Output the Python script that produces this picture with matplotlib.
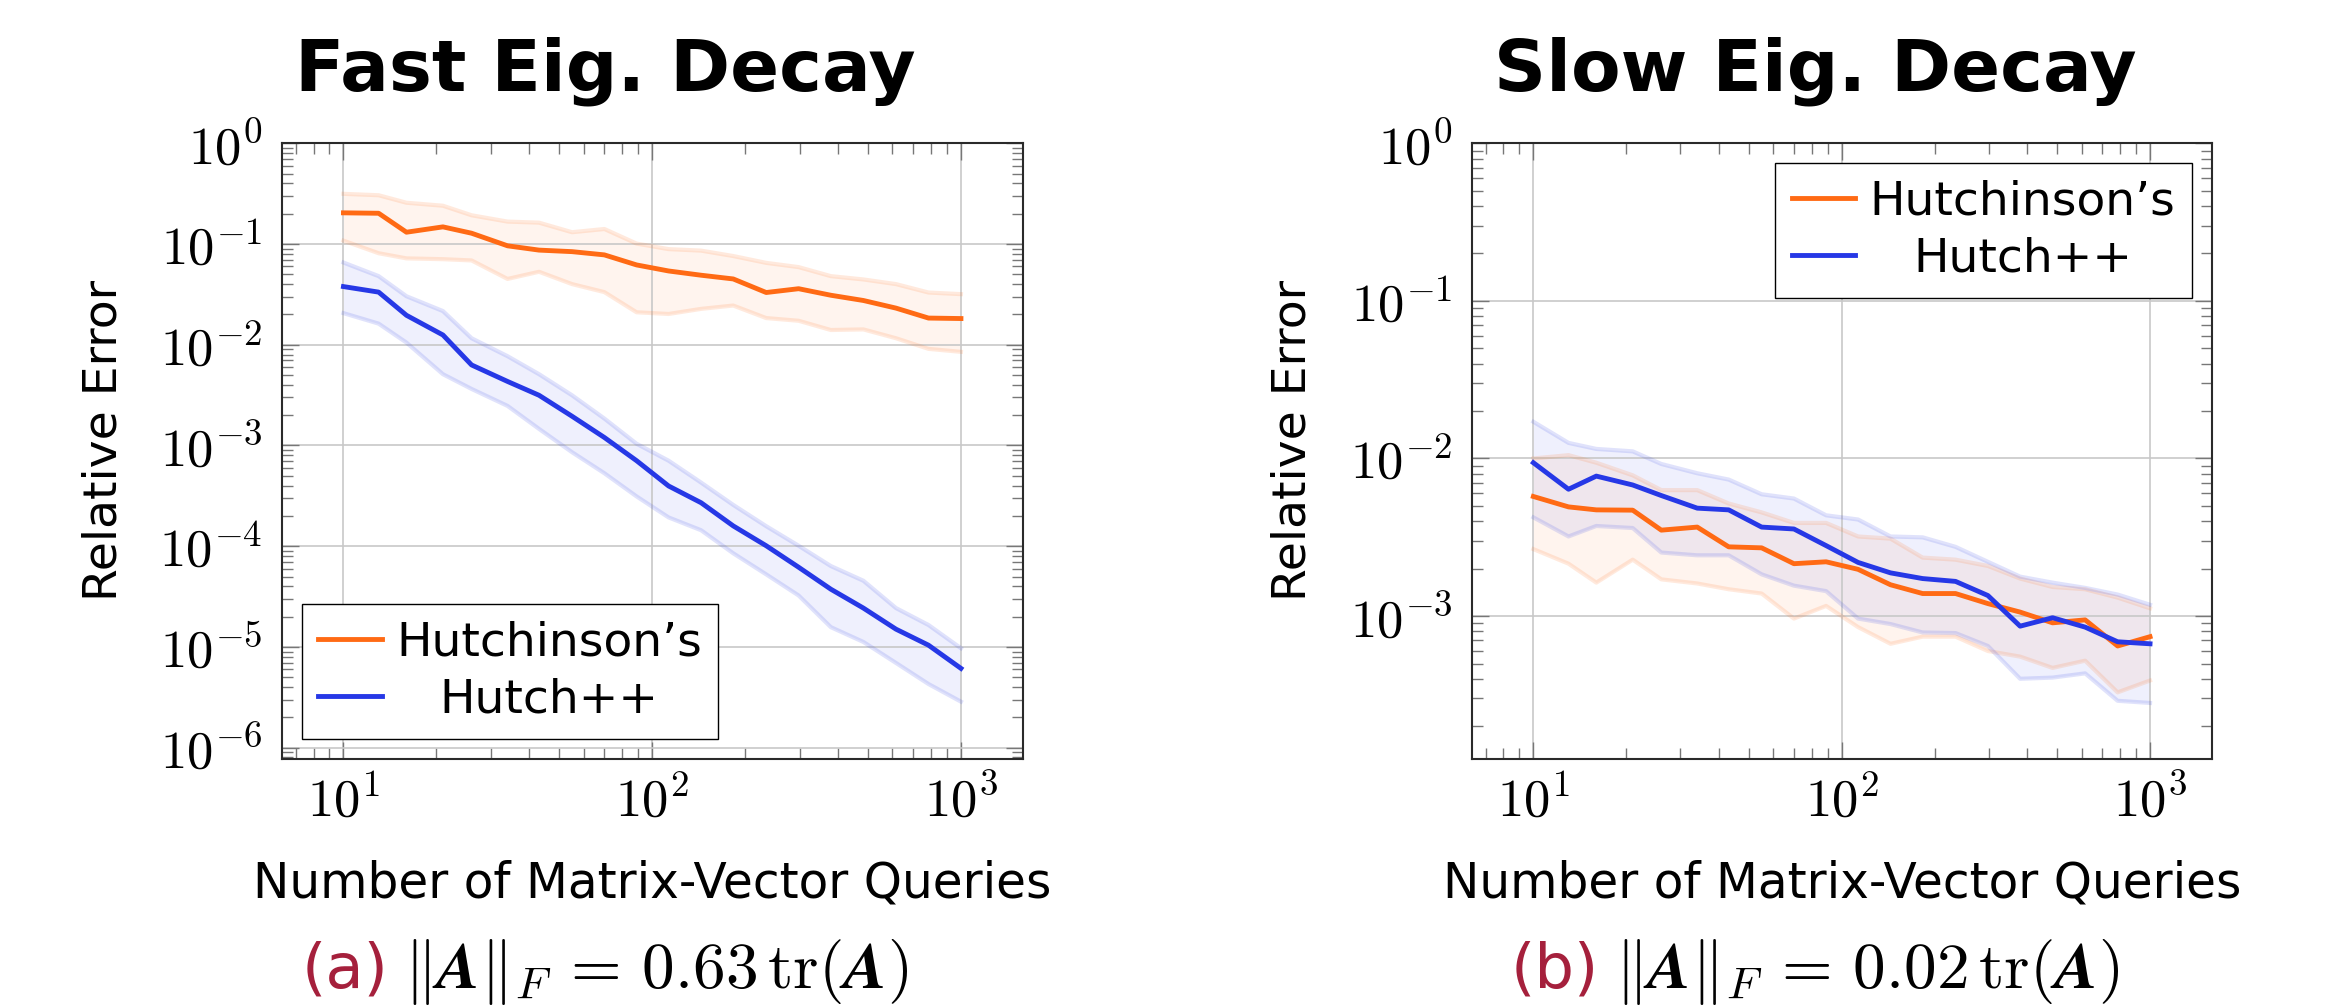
import numpy as np
import matplotlib
matplotlib.use("Agg")
import matplotlib.pyplot as plt
from matplotlib.ticker import LogLocator, FuncFormatter, NullFormatter
from matplotlib.transforms import Affine2D
from matplotlib.mathtext import MathTextParser
from matplotlib.font_manager import FontProperties

plt.rcParams['mathtext.fontset'] = 'cm'
plt.rcParams['font.family'] = ['DejaVu Sans']

# number of matrix-vector queries (x axis, shared by both panels)
queries = [10, 13, 16, 21, 26, 34, 43, 55, 70, 89, 113, 144, 183, 234, 298, 379, 483, 616, 785, 1000]

# (a) fast eigenvalue decay
fast_hutch = [0.204, 0.202, 0.131, 0.148, 0.128, 0.096, 0.087, 0.084, 0.078, 0.062,
              0.054, 0.049, 0.045, 0.033, 0.036, 0.031, 0.0275, 0.0231, 0.0184, 0.0182]
fast_hutch_hi = [0.315, 0.305, 0.257, 0.240, 0.193, 0.167, 0.163, 0.131, 0.141, 0.101,
                 0.089, 0.086, 0.076, 0.065, 0.059, 0.048, 0.0445, 0.040, 0.033, 0.0318]
fast_hutch_lo = [0.108, 0.081, 0.072, 0.0707, 0.0687, 0.045, 0.053, 0.040, 0.0333, 0.021,
                 0.0202, 0.0227, 0.0245, 0.0184, 0.0173, 0.014, 0.0142, 0.0116, 0.0091, 0.0085]
fast_pp = [0.0378, 0.0333, 0.0196, 0.0125, 0.0063, 0.00432, 0.00315, 0.00195, 0.0012, 0.000706,
           0.000396, 0.00027, 0.000159, 0.000101, 6.18e-5, 3.74e-5, 2.43e-5, 1.5e-5, 1.04e-5, 6.12e-6]
fast_pp_hi = [0.0655, 0.048, 0.0303, 0.0216, 0.0116, 0.0077, 0.0051, 0.00315, 0.00185, 0.00104,
              0.000706, 0.000428, 0.000257, 0.000158, 0.000101, 6.35e-5, 4.54e-5, 2.43e-5, 1.65e-5, 9.7e-6]
fast_pp_lo = [0.0206, 0.0162, 0.0105, 0.0051, 0.00364, 0.00247, 0.00146, 0.000857, 0.00053, 0.000312,
              0.000193, 0.000144, 8.5e-5, 5.25e-5, 3.24e-5, 1.57e-5, 1.12e-5, 6.93e-6, 4.28e-6, 2.86e-6]

# (b) slow eigenvalue decay
slow_hutch = [0.00574, 0.00493, 0.00472, 0.0047, 0.00351, 0.00367, 0.00275, 0.00271, 0.00215, 0.00221,
              0.00198, 0.00158, 0.00139, 0.00139, 0.0012, 0.00106, 0.000906, 0.000946, 0.000646, 0.00074]
slow_hutch_hi = [0.0100, 0.0105, 0.0094, 0.00782, 0.0063, 0.0063, 0.00518, 0.00455, 0.0039, 0.0039,
                 0.0032, 0.0031, 0.00235, 0.00228, 0.00208, 0.00173, 0.00153, 0.00148, 0.00131, 0.00112]
slow_hutch_lo = [0.00266, 0.00215, 0.00163, 0.00228, 0.00171, 0.00161, 0.00148, 0.00139, 0.000964, 0.00116,
                 0.000851, 0.000667, 0.00074, 0.00074, 0.0006, 0.000553, 0.000469, 0.000521, 0.000328, 0.00039]
slow_pp = [0.0094, 0.00638, 0.00773, 0.00679, 0.00582, 0.00484, 0.00472, 0.00367, 0.00357, 0.0028,
           0.00219, 0.00188, 0.00173, 0.00166, 0.00135, 0.000863, 0.000976, 0.000851, 0.000687, 0.000667]
slow_pp_hi = [0.0171, 0.01256, 0.0115, 0.0111, 0.00923, 0.00806, 0.00735, 0.00593, 0.00557, 0.00436,
              0.0041, 0.0032, 0.00316, 0.00275, 0.00221, 0.00178, 0.00163, 0.00151, 0.00137, 0.00118]
slow_pp_lo = [0.00423, 0.0032, 0.00373, 0.00362, 0.00253, 0.00243, 0.00243, 0.00184, 0.00156, 0.00144,
              0.000964, 0.00089, 0.000787, 0.00078, 0.000646, 0.0004, 0.000407, 0.000433, 0.00029, 0.000281]

labels = ["Hutchinson\u2019s", "Hutch++"]
titles = ["Fast Eig. Decay", "Slow Eig. Decay"]
tags = ["(a)", "(b)"]
ratios = ["0.63", "0.02"]

ORANGE = "#FF6A14"
BLUE = "#2638E6"
RED = "#A5203C"

W, H = 2331, 1007
fig = plt.figure(figsize=(W / 100, H / 100), dpi=100)


def fx(x):
    return x / W


def fy(y):
    return 1 - y / H


# bold italic A if mathtext can do it, else upright bold
try:
    MathTextParser("agg").parse(r"$\mathbfit{A}$", dpi=100, prop=FontProperties(size=20))
    boldA = r"\mathbfit{A}"
except Exception:
    boldA = r"\mathbf{A}"

ax_fast = fig.add_axes([fx(281.7), fy(758.7), 741 / W, 615.4 / H])
ax_slow = fig.add_axes([fx(1471.7), fy(758.7), 740 / W, 615.4 / H])

panels = [
    (ax_fast, fast_hutch, fast_hutch_lo, fast_hutch_hi, fast_pp, fast_pp_lo, fast_pp_hi, (10 ** -6.11, 1), "lower left"),
    (ax_slow, slow_hutch, slow_hutch_lo, slow_hutch_hi, slow_pp, slow_pp_lo, slow_pp_hi, (10 ** -3.905, 1), "upper right"),
]

legends = []
for ax, h, h_lo, h_hi, p, p_lo, p_hi, ylim, loc in panels:
    for lo, hi, c in [(h_lo, h_hi, ORANGE), (p_lo, p_hi, BLUE)]:
        ax.fill_between(queries, lo, hi, color=c, alpha=0.07, lw=0)
        ax.plot(queries, lo, color=c, alpha=0.14, lw=3.0)
        ax.plot(queries, hi, color=c, alpha=0.14, lw=3.0)
    l1, = ax.plot(queries, h, color=ORANGE, lw=3.5, label=labels[0])
    l2, = ax.plot(queries, p, color=BLUE, lw=3.5, label=labels[1])

    ax.set_xscale("log")
    ax.set_yscale("log")
    ax.set_xlim(10 ** 0.8, 10 ** 3.2)
    ax.set_ylim(*ylim)

    fmt = FuncFormatter(lambda v, pos: r"$10^{%d}$" % round(np.log10(v)))
    for axis in (ax.xaxis, ax.yaxis):
        axis.set_major_locator(LogLocator(base=10, numticks=100))
        axis.set_minor_locator(LogLocator(base=10, subs=np.arange(2, 10), numticks=100))
        axis.set_major_formatter(fmt)
        axis.set_minor_formatter(NullFormatter())
    ax.tick_params(which="both", direction="in", top=True, right=True, color="#777777", width=1.0)
    ax.tick_params(which="major", length=12, labelsize=38)
    ax.tick_params(axis="y", which="major", pad=14)
    ax.tick_params(axis="x", which="major", pad=12)
    ax.tick_params(which="minor", length=8)
    ax.grid(True, which="major", color="#c8c8c8", lw=1.2)
    for s in ax.spines.values():
        s.set_color("#2a2a2a")
        s.set_linewidth(1.5)

    leg = ax.legend(handles=[l1, l2], loc=loc, fontsize=34, frameon=True, fancybox=False,
                    edgecolor="black", framealpha=1, borderaxespad=0.42, handlelength=1.35,
                    handletextpad=0.3, borderpad=0.35, labelspacing=0.25)
    leg.get_frame().set_linewidth(1.0)
    legends.append(leg)

# titles, axis labels and captions
caption_parts = []
for i, (cx, sub_cx) in enumerate([(652.2, 605), (1841.7, 1815)]):
    fig.text(fx(sub_cx), fy(91), titles[i], ha="center", va="baseline",
             fontsize=52, fontweight="bold", family=["DejaVu Sans"])
    fig.text(fx(cx), fy(898), "Number of Matrix-Vector Queries", ha="center", va="baseline", fontsize=35)
    fig.text(fx([104, 1293][i]), fy(440), "Relative Error", rotation=90, ha="center", va="center", fontsize=34)
    tag = fig.text(0, fy(988), tags[i], ha="left", va="baseline", fontsize=45, color=RED)
    eq = fig.text(0, fy(988), r"$\|%s\|_F \,=\, %s\,\mathrm{tr}(%s)$" % (boldA, ratios[i], boldA),
                  ha="left", va="baseline", fontsize=47)
    caption_parts.append((sub_cx, tag, eq))

fig.canvas.draw()
renderer = fig.canvas.get_renderer()

# centre each caption (tag + formula) under its panel
gap = 16
for sub_cx, tag, eq in caption_parts:
    wt = tag.get_window_extent(renderer).width
    we = eq.get_window_extent(renderer).width
    left = sub_cx - (wt + gap + we) / 2
    tag.set_x(fx(left))
    eq.set_x(fx(left + wt + gap))

# centre the shorter legend entry inside its column, as in the original
for leg in legends:
    texts = leg.get_texts()
    widths = [t.get_window_extent(renderer).width for t in texts]
    wmax = max(widths)
    for t, w in zip(texts, widths):
        t.set_transform(t.get_transform() + Affine2D().translate((wmax - w) / 2, 0))

fig.savefig("out.png", dpi=100)
